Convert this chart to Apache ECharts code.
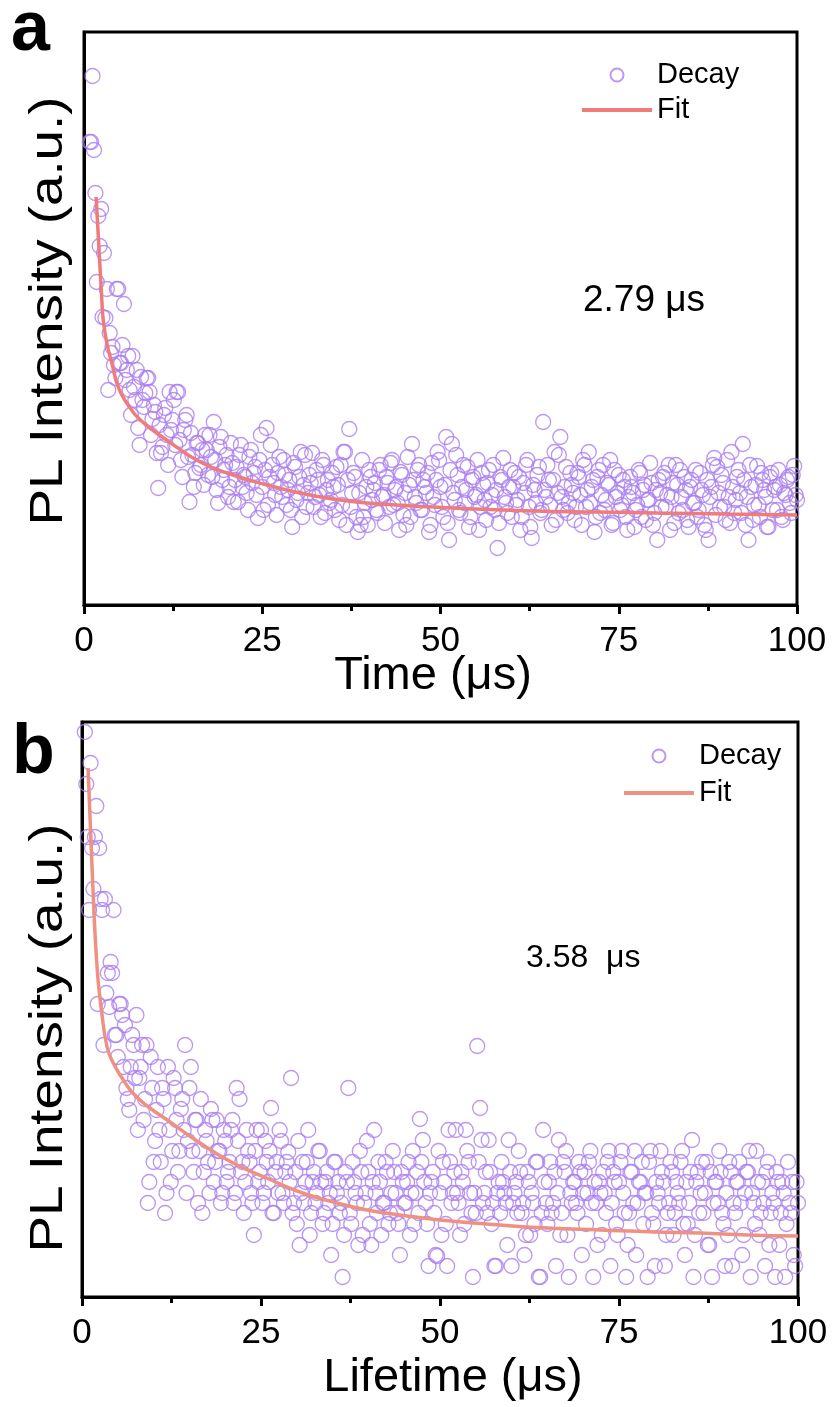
<!DOCTYPE html>
<html><head><meta charset="utf-8">
<script src="https://cdn.jsdelivr.net/npm/echarts@6/dist/echarts.min.js"></script>
<style>html,body{margin:0;padding:0;background:#fff}#c{width:834px;height:1407px}</style>
</head><body><div id="c"></div>
<script>
// ---------- Panel a ----------
// two interleaved sets of uniform time bins (µs)
const timeStartA = 0.8, timeStartA2 = 1.0, timeStepA = 0.4;
const decayA = [
463,529,412,389,396,352,316,272,258,227,
316,242,301,235,215,249,205,177,228,198,
227,213,186,193,117,152,190,170,213,185,
160,213,145,175,190,103,150,132,162,140,
120,155,170,128,145,102,168,135,150,118,
142,125,103,160,130,112,148,122,138,87,
170,95,177,128,140,110,132,118,145,100,
125,78,138,112,153,120,98,130,152,108,
125,88,140,115,102,132,95,120,140,153,
80,176,112,128,73,80,88,118,135,105,
122,92,140,110,128,98,145,115,102,133,
90,80,120,161,108,135,95,125,112,73,
142,100,153,118,88,168,65,161,105,130,
92,140,115,78,125,108,145,98,120,85,
135,110,95,57,128,147,102,118,88,132,
105,75,122,140,98,67,115,130,92,183,
108,125,80,153,112,168,95,138,102,120,
85,132,110,145,98,153,118,73,128,92,
140,105,120,80,135,112,95,125,88,108,
118,78,100,132,115,85,105,122,92,65,
112,128,98,140,108,82,120,135,95,115,
78,125,102,88,132,110,75,65,118,147,
138,98,122,85,108,153,92,128,112,161,
80,65,118,100,139,88,125,108,78,132,
115,95,120,85,110,128,92,139,105
];
const decayA2 = [
463,455,323,359,288,287,215,252,240,316,
242,260,225,249,190,218,235,160,205,212,
227,170,200,152,180,158,197,140,175,205,
213,165,128,185,148,172,118,162,137,155,
170,130,148,183,115,158,125,140,108,162,
103,138,150,118,128,95,155,132,110,145,
118,135,100,160,122,90,148,108,130,115,
95,142,105,128,88,150,112,122,98,135,
110,145,92,125,105,118,138,85,100,153,
125,98,132,88,112,145,102,80,128,115,
95,135,108,82,122,142,100,118,75,130,
112,148,88,125,102,140,95,118,132,80,
108,125,145,98,120,82,135,112,150,95,
118,102,138,88,128,110,75,132,105,122,
98,140,115,82,125,108,92,135,118,100,
128,88,112,145,78,120,102,138,95,115,
140,100,125,85,150,108,118,92,132,112,
98,128,80,140,115,102,125,88,135,110,
95,122,145,82,108,130,100,118,75,128,
112,95,135,88,120,105,142,80,115,125,
98,132,110,75,122,140,92,108,128,85,
118,102,135,95,115,80,125,108,140,90,
112,130,98,145,82,118,105,135,92,125,
108,140,85,120,100,132,115,78,128,95,
118,135,88,112,125,102,130,110
];
const fitTimeA = [1.7,2.5,2.7,3.2,3.9,4.8,6.0,7.9,11.6,16.3,20.9,25.7,30.3,34.9,39.7,46,55,63,72,80.5,90,100];
const fitA     = [408,305,285,262,242,218,202,185,165,143,130,120,112,106,102,99,96,94,93,92,91,90];

// ---------- Panel b ----------
const timeStartB = 0.4, timeStartB2 = 0.6, timeStepB = 0.4;
const decayB = [
565,460,534,408,491,449,387,398,324,335,
387,262,293,282,272,198,230,252,282,219,
252,198,94,240,135,187,167,209,84,230,
115,219,177,146,198,252,156,230,125,177,
146,84,167,135,188,115,177,146,104,156,
125,167,94,209,198,135,115,146,104,62,
167,125,94,156,115,189,84,135,167,104,
125,145,219,94,73,52,135,115,167,84,
125,104,146,73,115,94,42,135,104,84,
20,125,209,73,115,94,146,62,104,125,
52,167,84,115,94,135,73,104,125,84,
42,115,94,135,104,73,125,178,157,94,
31,115,84,41,104,135,73,167,94,125,
104,62,115,167,135,84,104,251,189,94,
125,157,73,31,104,84,115,94,157,31,
104,84,125,94,62,115,104,73,135,20,
167,94,115,84,125,104,62,135,146,20,
94,115,84,125,104,73,135,94,115,52,
104,125,84,146,94,115,62,135,104,20,
84,125,146,94,115,73,104,135,84,31,
104,146,115,62,94,125,84,104,135,73,
115,94,157,62,125,104,84,135,52,20,
115,94,125,73,104,135,31,84,115,94,
62,125,146,104,73,115,84,94,125,52,
104,20,115,84,104,73,94,115,31,94
];
const decayB2 = [
513,387,449,460,293,398,252,304,290,324,
262,240,293,230,209,187,262,219,167,230,
177,252,115,209,156,230,135,198,104,167,
146,209,125,188,167,104,209,146,177,94,
198,125,156,104,177,135,146,94,167,115,
135,177,104,156,125,84,167,135,94,146,
115,167,104,135,146,84,125,104,156,94,
135,115,84,125,156,104,94,135,62,115,
94,146,115,84,125,104,73,135,115,94,
62,115,84,135,104,52,125,94,156,73,
115,104,135,62,94,125,84,146,104,73,
125,94,115,62,146,104,84,135,115,73,
104,125,42,146,62,115,31,135,104,167,
94,125,73,146,104,20,84,135,157,104,
84,125,94,31,115,135,104,52,125,94,
115,146,84,42,125,62,94,135,20,84,
115,73,135,94,31,157,84,125,62,104,
115,94,135,42,125,104,146,20,94,115,
62,104,135,31,125,73,115,146,84,52,
125,94,42,115,135,104,20,146,73,115,
94,125,31,84,135,62,115,94,146,42,
73,125,20,115,84,135,104,52,125,94,
115,146,84,31,62,125,94,115,135,42,
104,125,20,94,146,62,115,31,135,84,
94,125,52,115,20,135,84,42,115
];
const fitTimeB = [0.85,1.4,2.1,2.7,3.5,4.3,5.5,7.1,9.3,11.9,16.5,21.1,25.8,30.4,35.1,39.8,44.4,50,58.4,65,72.3,80,86.3,93,100];
const fitB     = [529,430,330,288,250,235,220,204,190,177,154,134,119,105,95,87,82,77,72,69,67,65,64,62,61];

const xTickValues = [0, 25, 50, 75, 100];
const lifetimeA = '2.79 μs';
const lifetimeB = '3.58  μs';

// ---------- build ----------
const FONT = 'Liberation Sans, Arial, sans-serif';
const circleColor = '#a97df0';
const fitColorA = '#f07b7b';
const fitColorB = '#ef9180';
const fitIcon = 'path://M0,0L70,0L70,4L0,4Z';

function scatterPts(start, step, vals){ return vals.map((v,i)=>[+(start+i*step).toFixed(2), v]); }
function linePts(xs, ys){ return xs.map((x,i)=>[x, ys[i]]); }

function xAxisCfg(gi){
  return {
    gridIndex: gi, type:'value', min:0, max:100, interval:25,
    axisLine:{show:true, onZero:false, lineStyle:{color:'#000', width:3}},
    axisTick:{show:true, length:9, inside:false, lineStyle:{color:'#000', width:3}},
    minorTick:{show:true, splitNumber:2, length:6, lineStyle:{color:'#000', width:3}},
    splitLine:{show:false}, minorSplitLine:{show:false},
    axisLabel:{fontSize:35, color:'#000', margin:19, fontFamily:FONT,
      formatter: v => xTickValues.includes(v) ? String(v) : ''}
  };
}
function yAxisCfg(gi, max){
  return {
    gridIndex: gi, type:'value', min:0, max:max,
    axisLine:{show:true, lineStyle:{color:'#000', width:3}},
    axisTick:{show:false}, axisLabel:{show:false}, splitLine:{show:false}
  };
}
function legendCfg(left, top, gap, decayName, fitName){
  return {
    left:left, top:top, orient:'vertical', padding:0, itemGap:gap,
    itemWidth:70, itemHeight:13, selectedMode:false,
    data:[{name:decayName}, {name:fitName, icon:fitIcon}],
    formatter: n => n.split(' ')[0],
    textStyle:{fontSize:29, color:'#000', fontFamily:FONT, lineHeight:30}
  };
}
function txt(text, x, y, size, opts){
  return Object.assign({type:'text', x:x, y:y, silent:true,
    style:{text:text, fill:'#000', font: (opts&&opts.bold?'bold ':'') + size + 'px ' + FONT,
      align:(opts&&opts.align)||'left', verticalAlign:'middle'}}, (opts&&opts.extra)||{});
}
function scatterSeries(name, gi, data){
  return {name:name, type:'scatter', xAxisIndex:gi, yAxisIndex:gi, data:data,
    symbol:'circle', symbolSize:15, z:2,
    itemStyle:{color:'rgba(255,255,255,0)', borderColor:circleColor, borderWidth:1.3}};
}

const chart = echarts.init(document.getElementById('c'), null, {renderer:'canvas'});
chart.setOption({
  animation:false,
  backgroundColor:'#fff',
  grid:[
    {left:84, top:32, width:713, height:573, show:true, borderColor:'#000', borderWidth:3, containLabel:false},
    {left:82, top:722, width:716, height:575, show:true, borderColor:'#000', borderWidth:3, containLabel:false}
  ],
  xAxis:[xAxisCfg(0), xAxisCfg(1)],
  yAxis:[yAxisCfg(0,573), yAxisCfg(1,575)],
  legend:[
    legendCfg(582, 60, 5, 'Decay', 'Fit'),
    legendCfg(624, 741, 7, 'Decay b', 'Fit b')
  ],
  series:[
    scatterSeries('Decay', 0, scatterPts(timeStartA,timeStepA,decayA).concat(scatterPts(timeStartA2,timeStepA,decayA2))),
    {name:'Fit', type:'line', xAxisIndex:0, yAxisIndex:0, data:linePts(fitTimeA,fitA),
     smooth:0.5, symbol:'none', z:3, lineStyle:{color:fitColorA, width:3.5}, itemStyle:{color:fitColorA}},
    scatterSeries('Decay b', 1, scatterPts(timeStartB,timeStepB,decayB).concat(scatterPts(timeStartB2,timeStepB,decayB2))),
    {name:'Fit b', type:'line', xAxisIndex:1, yAxisIndex:1, data:linePts(fitTimeB,fitB),
     smooth:0.5, symbol:'none', z:3, lineStyle:{color:fitColorB, width:3.5}, itemStyle:{color:fitColorB}}
  ],
  graphic:[
    txt('a', 11, 31, 70, {bold:true}),
    txt('b', 12, 754, 70, {bold:true}),
    txt(lifetimeA, 583, 301, 37),
    txt(lifetimeB, 526, 958, 32),
    txt('Time (μs)', 433, 676, 47, {align:'center'}),
    txt('Lifetime (μs)', 453, 1378, 47, {align:'center'}),
    txt('PL Intensity (a.u.)', 49, 311, 46, {align:'center', extra:{rotation:Math.PI/2, scaleX:1.19}}),
    txt('PL Intensity (a.u.)', 49, 1038, 46, {align:'center', extra:{rotation:Math.PI/2, scaleX:1.19}})
  ]
});
</script></body></html>
